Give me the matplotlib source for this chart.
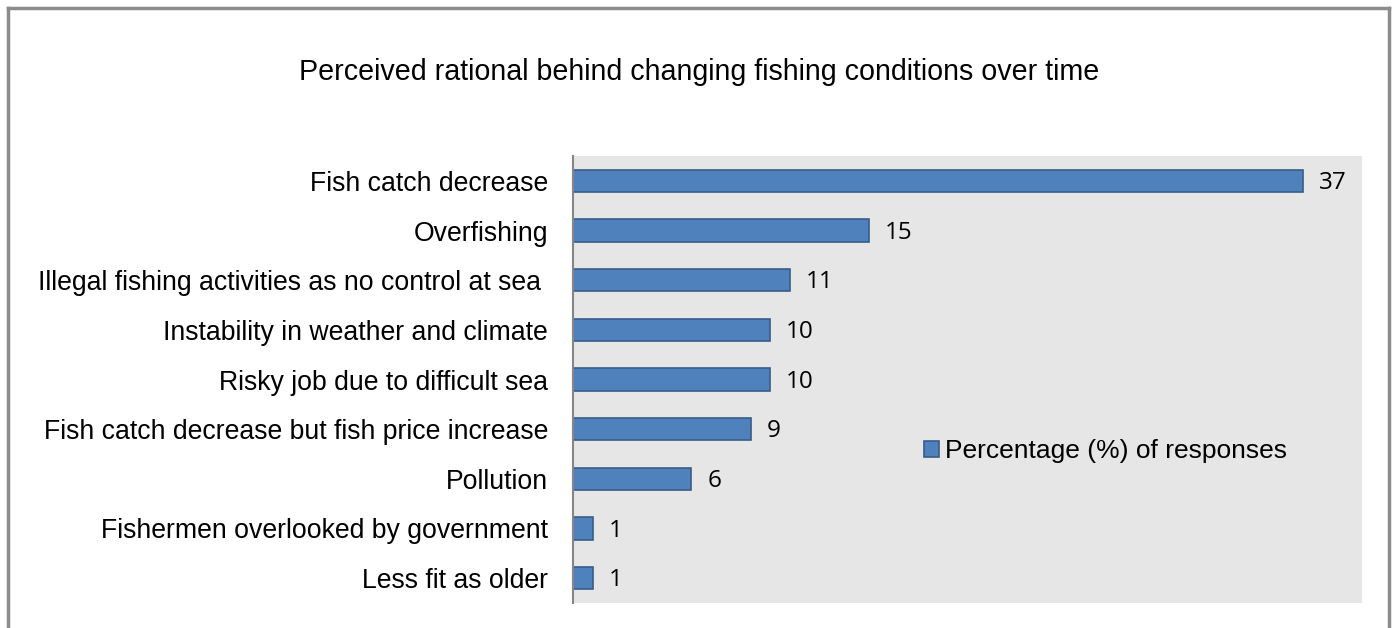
import matplotlib
matplotlib.use("Agg")
import matplotlib.pyplot as plt
from matplotlib.lines import Line2D

categories = [
    "Fish catch decrease",
    "Overfishing",
    "Illegal fishing activities as no control at sea ",
    "Instability in weather and climate",
    "Risky job due to difficult sea",
    "Fish catch decrease but fish price increase",
    "Pollution",
    "Fishermen overlooked by government",
    "Less fit as older",
]
values = [37, 15, 11, 10, 10, 9, 6, 1, 1]
series_name = "Percentage (%) of responses"
title = "Perceived rational behind changing fishing conditions over time"

W, H = 1395, 628
fig = plt.figure(figsize=(W / 100, H / 100), dpi=100)
fig.patch.set_facecolor("white")

ax = fig.add_axes([573 / W, 1 - 603 / H, (1362 - 573) / W, (603 - 156) / H])
ax.set_facecolor("#E6E6E6")

y = list(range(len(categories)))
bars = ax.barh(y, values, height=0.45, color="#4F81BD", edgecolor="#385D8A",
               linewidth=1.2, label=series_name)
ax.set_xlim(0, 40)
ax.set_ylim(len(categories) - 0.5, -0.5)
ax.set_yticks(y)
ax.set_yticklabels(categories, fontsize=19.2, family="Liberation Sans")
ax.tick_params(axis="y", length=0, pad=18)
ax.set_xticks([])
for s in ["top", "right", "bottom"]:
    ax.spines[s].set_visible(False)
ax.spines["left"].set_color("#868686")
ax.spines["left"].set_linewidth(1.5)

for yi, v in zip(y, values):
    ax.annotate(str(v), (v, yi), xytext=(11.5, -1.5), textcoords="offset points",
                va="center", ha="left", fontsize=17.5, family="Open Sans", color="black")

leg = ax.legend(loc="center left", bbox_to_anchor=((924 - 573) / (1362 - 573), 0.34),
                frameon=False, prop={"family": "Liberation Sans", "size": 19},
                handlelength=0.57, handleheight=0.57, handletextpad=0.22, borderaxespad=0,
                borderpad=0)

fig.text(0.501, 1 - 72 / H, title, ha="center", va="center", fontsize=20.6,
         family="Liberation Sans")

col = "#8C8C8C"
fig.add_artist(Line2D([8 / W, 8 / W], [0, 1 - 8 / H], transform=fig.transFigure, color=col, lw=2.5))
fig.add_artist(Line2D([8 / W, 1389 / W], [1 - 8 / H, 1 - 8 / H], transform=fig.transFigure, color=col, lw=2.5))
fig.add_artist(Line2D([1389 / W, 1389 / W], [0, 1 - 8 / H], transform=fig.transFigure, color=col, lw=2.5))

fig.savefig("out.png", dpi=100)
